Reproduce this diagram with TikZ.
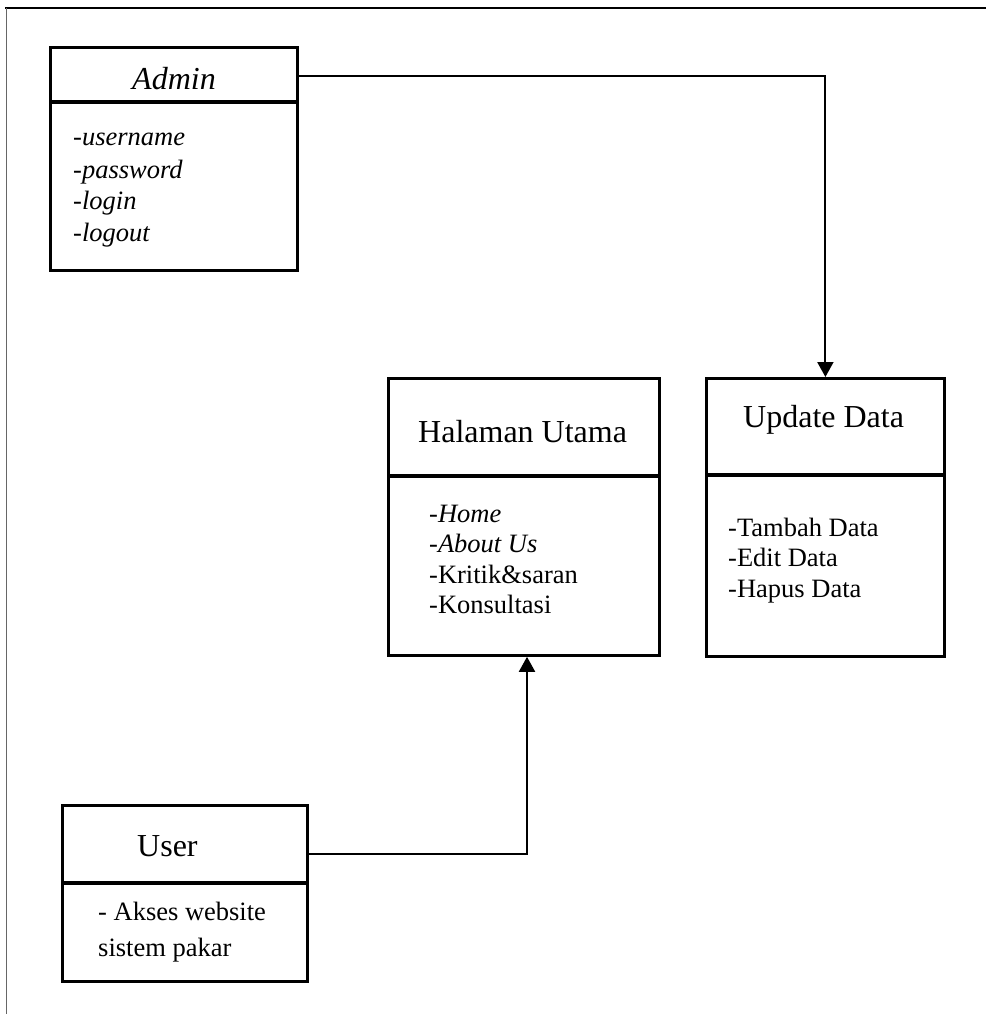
\documentclass[tikz,border=0pt]{standalone}
\usepackage{fontspec}
\setmainfont{Liberation Serif}
\usetikzlibrary{arrows.meta}
\begin{document}
\begin{tikzpicture}[x=1pt,y=-1pt,
  box/.style={draw,line width=2.8pt,inner sep=0pt,anchor=north west},
  divider/.style={line width=4pt},
  conn/.style={line width=2pt,-{Triangle[length=15pt,width=16pt]}},
  title/.style={anchor=base west,inner sep=0pt,font=\fontsize{32}{38}\selectfont},
  body/.style={anchor=base west,inner sep=0pt,font=\fontsize{26.5}{31}\selectfont}]
\useasboundingbox (0,0) rectangle (987,1014);
% page frame
\draw[line width=1.5pt] (5,8) -- (986,8);
\draw[line width=1pt,black!60] (6,8) -- (6,1014);
% boxes
\node[box,minimum width=247pt,minimum height=223pt] (admin) at (49,46) {};
\node[box,minimum width=271pt,minimum height=277pt] (halaman) at (387,377) {};
\node[box,minimum width=238pt,minimum height=278pt] (update) at (705,377) {};
\node[box,minimum width=245pt,minimum height=176pt] (user) at (61,804) {};
% dividers
\coordinate (dA) at (0,102);
\coordinate (dH) at (0,476);
\coordinate (dU) at (0,475);
\coordinate (dS) at (0,883);
\draw[divider] (admin.west |- dA) -- (admin.east |- dA);
\draw[divider] (halaman.west |- dH) -- (halaman.east |- dH);
\draw[divider] (update.west |- dU) -- (update.east |- dU);
\draw[divider] (user.west |- dS) -- (user.east |- dS);
% titles
\node[title] (tadmin) at (132,90) {\itshape Admin};
\node[title] (thal) at (418,442) {Halaman Utama};
\node[title] (tupd) at (743,427) {Update Data};
\node[title] (tuser) at (137,856) {User};
% admin body
\node[body] (a1) at (73,146) {\itshape -username};
\node[body] (a2) at (73,178) {\itshape -password};
\node[body] (a3) at (73,209) {\itshape -login};
\node[body] (a4) at (73,241) {\itshape -logout};
% halaman body
\node[body] (h1) at (429,522) {-\textit{Home}};
\node[body] (h2) at (429,552) {\textit{-About Us}};
\node[body] (h3) at (429,583) {-Kritik\&saran};
\node[body] (h4) at (429,613) {-Konsultasi};
% update body
\node[body] (u1) at (728,536) {-Tambah Data};
\node[body] (u2) at (728,566) {-Edit Data};
\node[body] (u3) at (728,597) {-Hapus Data};
% user body
\node[body] (s1) at (98,920) {- Akses website};
\node[body] (s2) at (98,956) {sistem pakar};
% connectors
\coordinate (ca) at (0,76);
\draw[conn] (admin.east |- ca) -| (update.north);
\coordinate (cu) at (527,854);
\draw[conn] (user.east |- cu) -- (cu) -- (cu |- halaman.south);
\end{tikzpicture}
\end{document}
